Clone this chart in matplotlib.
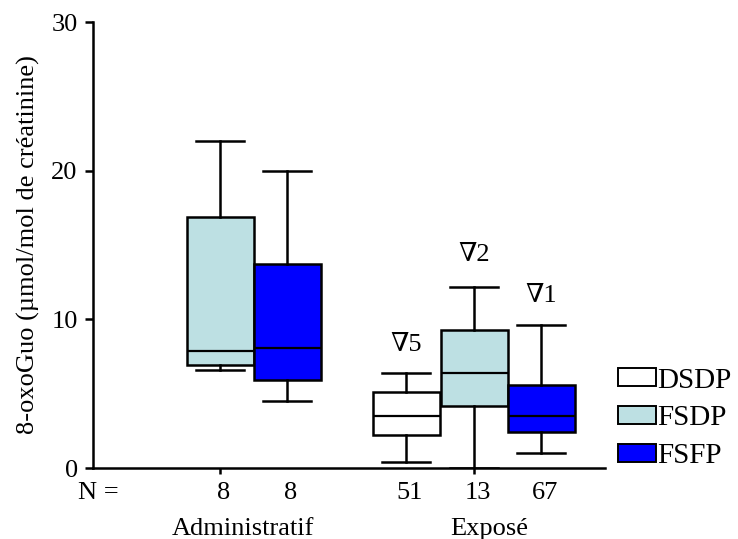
import matplotlib
matplotlib.use("Agg")
import matplotlib.pyplot as plt
from matplotlib.patches import Patch

plt.rcParams['font.family'] = ['Liberation Serif', 'DejaVu Serif']

# ---- data ----
groups = ["Administratif", "Exposé"]
series = ["DSDP", "FSDP", "FSFP"]
colors = {"DSDP": "#FFFFFF", "FSDP": "#BDE0E3", "FSFP": "#0000FF"}

# boxes: (group, series, whislo, q1, med, q3, whishi, N, outlier_count)
box_group = ["Administratif", "Administratif", "Exposé", "Exposé", "Exposé"]
box_series = ["FSDP", "FSFP", "DSDP", "FSDP", "FSFP"]
whislo = [6.6, 4.5, 0.4, 0.0, 1.0]
q1 = [6.9, 5.9, 2.2, 4.2, 2.4]
med = [7.9, 8.1, 3.5, 6.4, 3.5]
q3 = [16.9, 13.7, 5.1, 9.3, 5.6]
whishi = [22.0, 20.0, 6.4, 12.2, 9.6]
n_values = [8, 8, 51, 13, 67]
outlier_counts = [None, None, 5, 2, 1]
outlier_label_y = [None, None, 8.3, 14.3, 11.6]

yticks = [0, 10, 20, 30]

# ---- layout ----
group_centers = {"Administratif": 2.0, "Exposé": 5.735}
slot_offset = {"DSDP": -1.0, "FSDP": 0.0, "FSFP": 0.985}
group_label_x = {"Administratif": 2.34, "Exposé": 5.96}

fig = plt.figure(figsize=(7.38, 5.39), dpi=100)
ax = fig.add_axes([0.126, 0.1317, 0.694, 0.8273])

stats = []
positions = []
for i in range(len(box_group)):
    stats.append(dict(whislo=whislo[i], q1=q1[i], med=med[i], q3=q3[i],
                      whishi=whishi[i], fliers=[]))
    positions.append(group_centers[box_group[i]] + slot_offset[box_series[i]])

bp = ax.bxp(stats, positions=positions, widths=0.985, patch_artist=True,
            showfliers=False,
            boxprops=dict(linewidth=1.8, edgecolor='black'),
            medianprops=dict(color='black', linewidth=1.6),
            whiskerprops=dict(color='black', linewidth=1.8),
            capprops=dict(color='black', linewidth=1.8),
            capwidths=0.71)
for patch, s in zip(bp['boxes'], box_series):
    patch.set_facecolor(colors[s])

# outlier count annotations
for i in range(len(box_group)):
    if outlier_counts[i] is not None:
        ax.text(positions[i], outlier_label_y[i], "∇" + str(outlier_counts[i]),
                ha='center', va='center', fontsize=19)

ax.set_xlim(0.132, 7.66)
ax.set_ylim(0, 30)
ax.set_yticks(yticks)
ax.set_yticklabels([str(t) for t in yticks], fontsize=19)
ax.set_xticks([group_centers[g] for g in groups])
ax.set_xticklabels([])
ax.tick_params(axis='y', length=6, width=1.8, direction='out', pad=5)
ax.tick_params(axis='x', length=4, width=1.8, direction='out')
for sp in ['top', 'right']:
    ax.spines[sp].set_visible(False)
for sp in ['left', 'bottom']:
    ax.spines[sp].set_linewidth(1.8)

ax.set_ylabel("8-oxoGuo (µmol/mol de créatinine)", fontsize=19, labelpad=8)

# N row
trans = ax.get_xaxis_transform()
ax.text(-0.029, -0.056, "N =", transform=ax.transAxes, ha='left', va='center',
        fontsize=19)
for p, n in zip(positions, n_values):
    ax.text(p + 0.05, -0.056, str(n), transform=trans, ha='center', va='center',
            fontsize=19)
for g in groups:
    ax.text(group_label_x[g], -0.136, g, transform=trans, ha='center',
            va='center', fontsize=19)

handles = [Patch(facecolor=colors[s], edgecolor='black', linewidth=1.4, label=s)
           for s in series]
fig.legend(handles=handles, loc='center left', bbox_to_anchor=(0.818, 0.224),
           frameon=False, fontsize=21, handlelength=1.3, handleheight=0.58,
           handletextpad=0.05, labelspacing=0.4, borderpad=0)

fig.savefig("out.png", dpi=100)
